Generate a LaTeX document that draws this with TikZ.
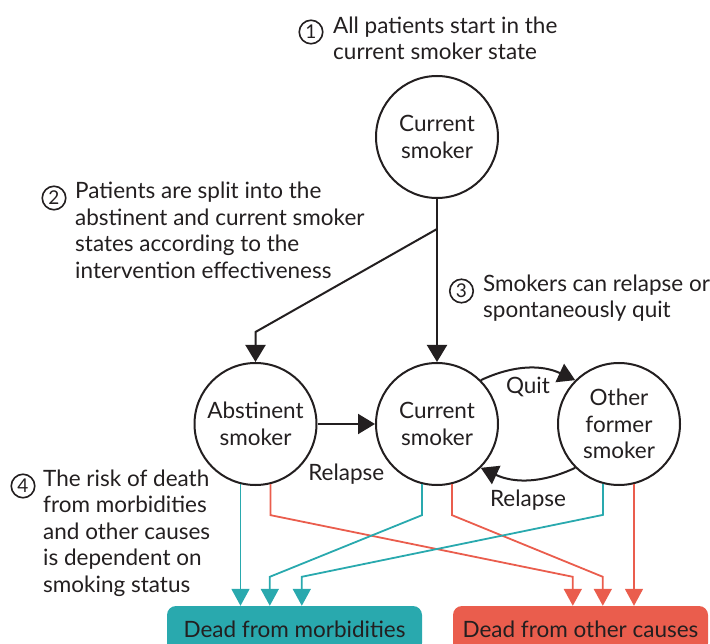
\documentclass[tikz,border=0pt]{standalone}
\usepackage{fontspec}
\setmainfont{Lato}
\usetikzlibrary{arrows.meta, positioning, calc}

\definecolor{ink}{HTML}{231F20}
\definecolor{tealfill}{HTML}{29A9AE}
\definecolor{coralfill}{HTML}{EA5D4D}

\begin{document}
\begin{tikzpicture}[
  x=1pt, y=1pt,
  every node/.style={font=\fontsize{22.5}{26.5}\selectfont, text=ink},
  state/.style={draw=ink, circle, line width=2pt, minimum size=122pt, inner sep=0pt, align=center},
  num/.style={draw=ink, circle, line width=1.6pt, minimum size=23.5pt, inner sep=0pt, font=\fontsize{19}{19}\selectfont},
  note/.style={anchor=base west, align=left, inner sep=0pt},
  outcome/.style={rounded corners=9pt, minimum width=255pt, minimum height=46pt, inner sep=0pt},
  arrow/.style={draw=ink, line width=2pt, -{Triangle[length=17pt,width=20pt]}},
  tl/.style={draw=tealfill, line width=1.8pt, -{Triangle[length=17pt,width=18pt]}},
  rl/.style={draw=coralfill, line width=1.8pt, -{Triangle[length=17pt,width=18pt]}}
]
\useasboundingbox (0,0) rectangle (710,-644);

% States
\node[state] (top) at (437,-137) {Current\\smoker};
\node[state] (ab) at (255.5,-424) {Abstinent\\smoker};
\node[state] (cs) at (437,-424) {Current\\smoker};
\node[state] (of) at (619,-424) {Other\\former\\smoker};

% Outcomes
\node[outcome, fill=tealfill] (dm) at (294.5,-629) {Dead from morbidities};
\node[outcome, fill=coralfill] (do) at (580.5,-629) {Dead from other causes};

% Notes (base = last line)
\node[num] (n1) at (311,-32) {1};
\node[note] (t1) at (333,-60) {All patients start in the\\current smoker state};
\node[num] (n2) at (54,-198) {2};
\node[note] (t2) at (75,-278.5) {Patients are split into the\\abstinent and current smoker\\states according to the\\intervention effectiveness};
\node[num] (n3) at (461.5,-291) {3};
\node[note] (t3) at (483,-318) {Smokers can relapse or\\spontaneously quit};
\node[num] (n4) at (23,-486) {4};
\node[note] (t4) at (43,-592) {The risk of death\\from morbidities\\and other causes\\is dependent on\\smoking status};

% Transitions
\draw[arrow] (top) -- (cs);
\coordinate (split) at ($(top.south)+(0,-30)$);
\draw[arrow] (split) -- ($(ab.north)+(0,30)$) -- (ab.north);
\draw[arrow] (ab) -- node[below=36pt] (rel1) {Relapse} (cs);
\draw[arrow] (cs.45) to[bend left=25] node[below=4pt] (quit) {Quit} (of.135);
\draw[arrow] (of.-135) to[bend left=25] node[below=6pt] (rel2) {Relapse} (cs.-45);

% Arrow ends on the outcomes
\coordinate (m1) at ($(dm.north west)+(74,0)$);
\coordinate (m2) at ($(dm.north west)+(103,0)$);
\coordinate (m3) at ($(dm.north west)+(135,0)$);
\coordinate (r1) at ($(do.north west)+(120,0)$);
\coordinate (r2) at ($(do.north west)+(150,0)$);
\coordinate (r3) at ($(do.north west)+(181,0)$);

% Death risks
\draw[tl] (ab.-104) -- (ab.-104 |- m1);
\draw[rl] (ab.-76) -- ++(0,-31) -- ($(r1)+(0,29)$) -- (r1);
\draw[tl] (cs.-104) -- ++(0,-31) -- ($(m2)+(0,29)$) -- (m2);
\draw[rl] (cs.-76) -- ++(0,-31) -- ($(r2)+(0,29)$) -- (r2);
\draw[tl] (of.-105) -- ++(0,-31) -- ($(m3)+(0,29)$) -- (m3);
\draw[rl] (of.-76) -- (of.-76 |- r3);
\end{tikzpicture}
\end{document}
